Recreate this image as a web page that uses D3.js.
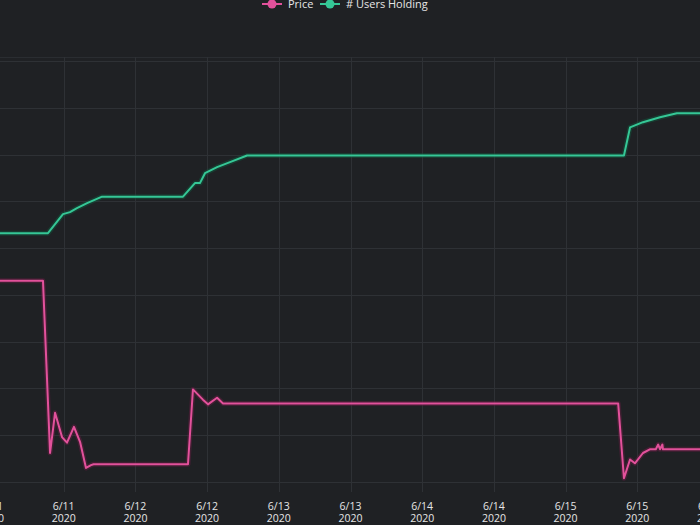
<!DOCTYPE html>
<html>
<head>
<meta charset="utf-8">
<script src="https://cdn.jsdelivr.net/npm/d3@7"></script>
<style>
  html, body { margin: 0; padding: 0; background: #1f2124; }
  svg { display: block; }
</style>
</head>
<body>
<svg id="chart" width="700" height="525"></svg>
<script>
// ---- data ----
const seriesNames = ["Price", "# Users Holding"];
const seriesColors = ["#e2519b", "#35c796"];

const priceTimes = ["2020-06-10 22:00","2020-06-11 08:32","2020-06-11 09:43","2020-06-11 10:33","2020-06-11 11:43","2020-06-11 12:33","2020-06-11 13:43","2020-06-11 14:44","2020-06-11 15:44","2020-06-11 16:34","2020-06-11 17:00","2020-06-12 08:48","2020-06-12 09:38","2020-06-12 11:18","2020-06-12 12:09","2020-06-12 13:40","2020-06-12 14:40","2020-06-15 08:48","2020-06-15 09:46","2020-06-15 10:47","2020-06-15 11:36","2020-06-15 12:57","2020-06-15 14:06","2020-06-15 15:06","2020-06-15 15:30","2020-06-15 15:48","2020-06-15 16:12","2020-06-15 16:18","2020-06-16 02:00"];
const priceValues = [3.65,3.65,1.81,2.24,1.98,1.92,2.09,1.93,1.65,1.68,1.69,1.69,2.49,2.38,2.33,2.40,2.34,2.34,1.54,1.74,1.70,1.81,1.85,1.85,1.90,1.85,1.90,1.85,1.85];

const userTimes = ["2020-06-10 22:00","2020-06-11 09:22","2020-06-11 11:53","2020-06-11 13:03","2020-06-11 14:13","2020-06-11 15:55","2020-06-11 18:25","2020-06-12 07:58","2020-06-12 09:58","2020-06-12 10:48","2020-06-12 11:39","2020-06-12 13:40","2020-06-12 15:50","2020-06-12 18:41","2020-06-15 09:46","2020-06-15 10:47","2020-06-15 12:57","2020-06-15 15:48","2020-06-15 18:37","2020-06-16 02:00"];
const userValues = [156600,156600,158630,158850,159270,159800,160500,160500,161950,161950,163010,163650,164190,164900,164900,167900,168460,168990,169420,169420];

const priceTicks = [1.5,2.0,2.5,3.0,3.5,4.0,4.5,5.0,5.5,6.0];

// ---- layout ----
const W = 700, H = 525;
const plotTop = 57, plotBottom = 482;
const parse = d3.timeParse("%Y-%m-%d %H:%M");

const svg = d3.select("#chart");
svg.append("rect").attr("width", W).attr("height", H).attr("fill", "#1f2124");

const x = d3.scaleTime()
  .domain([parse("2020-06-11 00:00"), parse("2020-06-16 00:00")])
  .range([-8, 709]);

const yPrice = d3.scaleLinear().domain([1.5, 6.0]).range([482, 61]);
const yUsers = d3.scaleLinear().domain([130000, 175000]).range([482, 61]);

// horizontal grid
svg.append("g")
  .selectAll("line").data(priceTicks).join("line")
  .attr("x1", 0).attr("x2", W)
  .attr("y1", d => Math.round(yPrice(d)) + 0.5)
  .attr("y2", d => Math.round(yPrice(d)) + 0.5)
  .attr("stroke", "#2e3135").attr("stroke-width", 1);

// top border line
svg.append("line").attr("x1", 0).attr("x2", W)
  .attr("y1", plotTop + 0.5).attr("y2", plotTop + 0.5)
  .attr("stroke", "#2a2d31");

// x ticks every 12h
const xTicks = d3.timeHour.every(12).range(parse("2020-06-11 00:00"), parse("2020-06-16 00:01"));
svg.append("g")
  .selectAll("line").data(xTicks).join("line")
  .attr("x1", d => Math.round(x(d)) + 0.5).attr("x2", d => Math.round(x(d)) + 0.5)
  .attr("y1", plotTop).attr("y2", 492)
  .attr("stroke", "#2e3135").attr("stroke-width", 1);

const fmtMD = d3.timeFormat("%-m/%-d");
const fmtY = d3.timeFormat("%Y");
const labels = svg.append("g")
  .attr("font-family", "'Open Sans', sans-serif")
  .attr("font-size", 10.5)
  .attr("fill", "#e6e6e6")
  .attr("text-anchor", "middle");
labels.selectAll("text.md").data(xTicks).join("text").attr("class", "md")
  .attr("x", d => x(d)).attr("y", 510).text(d => fmtMD(d));
labels.selectAll("text.yr").data(xTicks).join("text").attr("class", "yr")
  .attr("x", d => x(d)).attr("y", 522).text(d => fmtY(d));

// lines
const priceData = priceTimes.map((t, i) => ({ t: parse(t), v: priceValues[i] }));
const userData = userTimes.map((t, i) => ({ t: parse(t), v: userValues[i] }));

const linePrice = d3.line().x(d => x(d.t)).y(d => yPrice(d.v));
const lineUsers = d3.line().x(d => x(d.t)).y(d => yUsers(d.v));

function drawSeries(data, gen, color, shadow) {
  svg.append("path").datum(data).attr("d", gen)
    .attr("fill", "none").attr("stroke", shadow).attr("stroke-width", 5)
    .attr("stroke-opacity", 0.45).attr("stroke-linejoin", "round");
  svg.append("path").datum(data).attr("d", gen)
    .attr("fill", "none").attr("stroke", color).attr("stroke-width", 2)
    .attr("stroke-linejoin", "round");
}
drawSeries(userData, lineUsers, seriesColors[1], "#0f5a40");
drawSeries(priceData, linePrice, seriesColors[0], "#6a1c45");

// legend
const legend = svg.append("g")
  .attr("font-family", "'Open Sans', sans-serif")
  .attr("font-size", 11)
  .attr("fill", "#e6e6e6");
const legendItems = [
  { name: seriesNames[0], color: seriesColors[0], x0: 262 },
  { name: seriesNames[1], color: seriesColors[1], x0: 320 }
];
legendItems.forEach(it => {
  const g = legend.append("g");
  g.append("line").attr("x1", it.x0).attr("x2", it.x0 + 20).attr("y1", 4).attr("y2", 4)
    .attr("stroke", it.color).attr("stroke-width", 2);
  g.append("circle").attr("cx", it.x0 + 10).attr("cy", 4).attr("r", 4.5).attr("fill", it.color);
  g.append("text").attr("x", it.x0 + 26).attr("y", 8).text(it.name);
});
</script>
</body>
</html>
